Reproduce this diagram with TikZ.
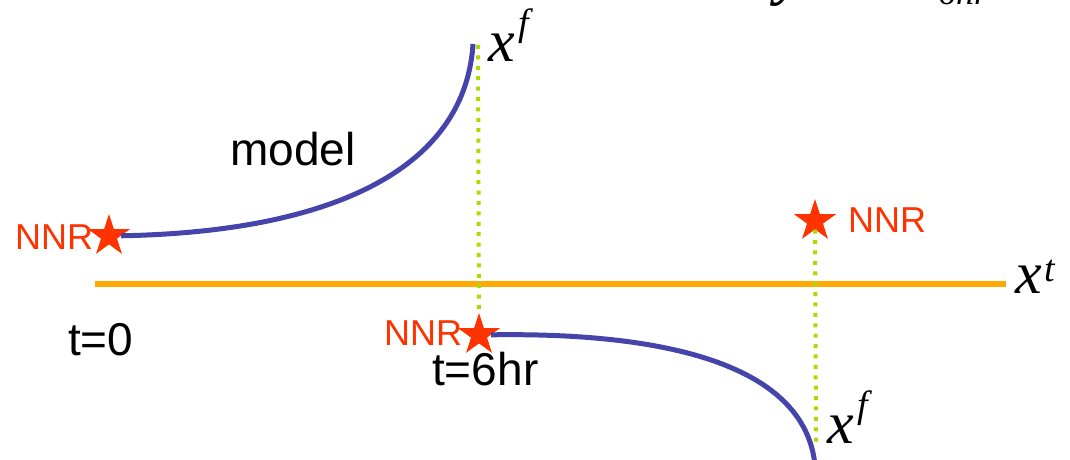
\documentclass[tikz,border=0pt]{standalone}
\usepackage{fontspec}
\setmainfont{Liberation Sans}
\newfontfamily\tms{Liberation Serif}
\usetikzlibrary{shapes.geometric}
\definecolor{nnrred}{RGB}{255,51,0}
\definecolor{axisorange}{RGB}{255,170,0}
\definecolor{curveblue}{RGB}{68,68,170}
\definecolor{dotgreen}{RGB}{170,220,0}
\tikzset{
  lbl/.style={anchor=base west,inner sep=0pt,font=\fontsize{46}{50}\selectfont},
  nnr/.style={anchor=base west,inner sep=0pt,text=nnrred,font=\fontsize{36}{40}\selectfont},
  mth/.style={anchor=base west,inner sep=0pt,font=\fontsize{60}{60}\tms\itshape},
  starnode/.style={star,star points=5,star point ratio=2.618,minimum size=44pt,inner sep=0pt,fill=nnrred},
  curve/.style={draw=curveblue,line width=5pt},
  axisline/.style={draw=axisorange,line width=6pt},
  dots/.style={draw=dotgreen,line width=4pt,dash pattern=on 4pt off 6.4pt}
}
\newcommand{\supf}{\hspace{4pt}\raisebox{26pt}{\fontsize{38}{38}\selectfont f}}
\newcommand{\supt}{\hspace{3pt}\raisebox{12pt}{\fontsize{38}{38}\selectfont t}}
\begin{document}
\begin{tikzpicture}[x=1pt,y=-1pt]
\useasboundingbox (0,0) rectangle (1070,460);
\clip (0,0) rectangle (1070,460);
% cut-off title fragments
\node[mth,font=\fontsize{60}{60}\tms\itshape\bfseries] (ty) at (776,-6) {y};
\node[anchor=base west,inner sep=0pt,font=\fontsize{36}{36}\tms\itshape] (t6) at (938,5) {6hr};
% stars
\node[starnode] (sL) at (109,236) {};
\node[starnode] (sM) at (479,335) {};
\node[starnode] (sR) at (815,221) {};
\coordinate (fTop) at (478,45);
\coordinate (cTop) at (473,44);
\coordinate (fBot) at (816,442);
\coordinate (cBot) at (815,465);
\coordinate (aL) at (95,284);
\coordinate (aR) at (1006,284);
% axis
\draw[axisline] (aL) -- (aR);
% dotted verticals
\draw[dots] (fTop) -- (sM);
\draw[dots] (sR) -- (fBot);
% model curves
\draw[curve] (sL) .. controls (330,232) and (465,170) .. (cTop);
\draw[curve] (sM) .. controls (680,332) and (805,370) .. (cBot);
% labels
\node[nnr] (nL) at (15,249) {NNR};
\node[nnr] (nM) at (384,345) {NNR};
\node[nnr] (nR) at (848,232) {NNR};
\node[lbl] (model) at (230,165) {model};
\node[lbl] (t0) at (68,355) {t=0};
\node[lbl] (t6hr) at (432,385) {t=6hr};
\node[mth] (xfT) at (488,62) {x\supf};
\node[mth] (xt) at (1015,293) {x\supt};
\node[mth] (xfB) at (827,443) {x\supf};
\end{tikzpicture}
\end{document}
